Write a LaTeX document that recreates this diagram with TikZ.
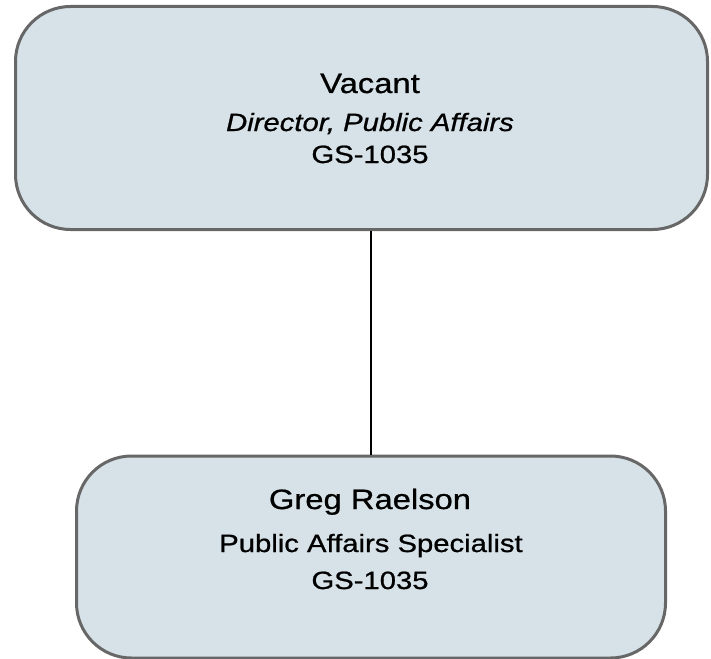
\documentclass[tikz,border=0pt]{standalone}
\usepackage{fontspec}
\newfontfamily\orgfont[FakeStretch=1.17, FakeBold=0.8]{Liberation Sans}
\definecolor{boxfill}{HTML}{D6E2E8}
\definecolor{boxline}{HTML}{676767}

\tikzset{
  x=1pt, y=-1pt,
  orgbox/.style   = {shape=rectangle, rounded corners=55pt,
                     draw=boxline, line width=3pt, fill=boxfill,
                     inner sep=0pt},
  person/.style   = {anchor=base, font=\orgfont\fontsize{28}{32}\selectfont},
  post/.style     = {anchor=base, font=\orgfont\fontsize{25}{29}\selectfont},
  grade/.style    = {anchor=base, font=\orgfont\fontsize{25}{29}\selectfont},
  reports/.style  = {draw=black, line width=2.5pt}
}

\begin{document}
\begin{tikzpicture}
\useasboundingbox (0,0) rectangle (711,658);

% boxes
\node [orgbox, minimum width=692pt, minimum height=223pt] (director) at (361.5,118) {};
\node [orgbox, minimum width=589pt, minimum height=202pt] (specialist) at (371,557) {};

% line of report
\draw [reports] (specialist.north) -- (specialist.north |- director.south);

% director
\node [person] (dirname)  at (370,93)  {Vacant};
\node [post]   (dirpost)  at (370,131) {\itshape Director, Public Affairs};
\node [grade]  (dirgrade) at (370,163) {GS-1035};

% specialist
\node [person] (specname)  at (370,509) {Greg Raelson};
\node [post]   (specpost)  at (371,552) {Public Affairs Specialist};
\node [grade]  (specgrade) at (370,589) {GS-1035};
\end{tikzpicture}
\end{document}
